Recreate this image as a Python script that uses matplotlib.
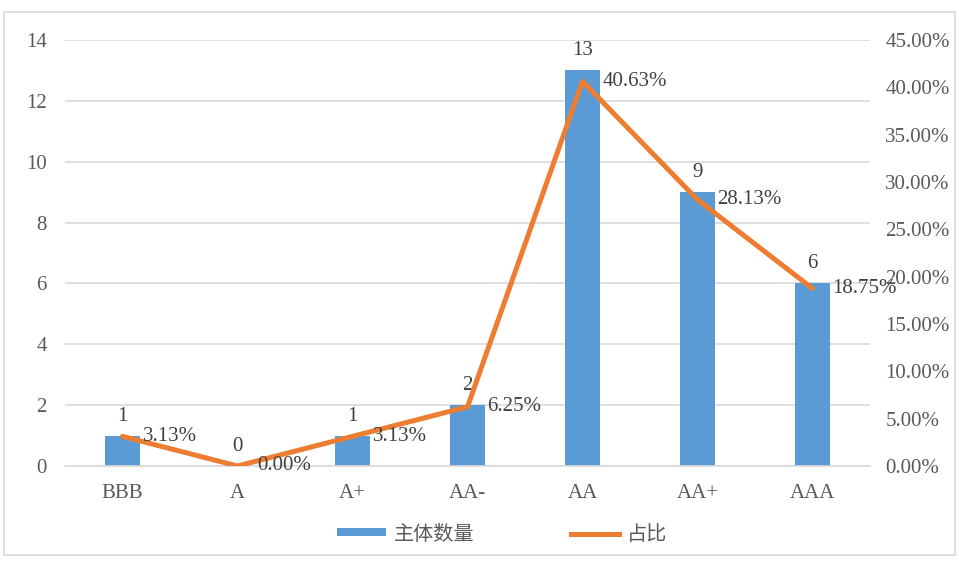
import matplotlib
matplotlib.use("Agg")
import matplotlib.pyplot as plt
from matplotlib.ticker import FuncFormatter, MultipleLocator
from matplotlib.patches import Rectangle, Patch
from matplotlib.lines import Line2D

categories = ["BBB", "A", "A+", "AA-", "AA", "AA+", "AAA"]
counts = [1, 0, 1, 2, 13, 9, 6]
shares = [3.13, 0.00, 3.13, 6.25, 40.63, 28.13, 18.75]

BAR = "#5B9BD5"
LINE = "#ED7D31"
TICK = "#595959"
LABEL = "#404040"
SERIF = ["Liberation Serif", "DejaVu Serif"]
CJK = ["Noto Sans CJK SC", "DejaVu Sans"]
FS = 15

fig = plt.figure(figsize=(9.59, 5.61), dpi=100)
fig.patches.append(Rectangle((4/959, 6/561), 951/959, 543/561, transform=fig.transFigure,
                             fill=False, edgecolor="#D9D9D9", linewidth=1.2))
ax = fig.add_axes([65/959, 1-466/561, 805/959, 426/561])
x = list(range(len(categories)))
ax.bar(x, counts, width=0.31, color=BAR, zorder=2)
ax.set_xlim(-0.5, len(categories) - 0.5)
ax.set_ylim(0, 14)
ax.yaxis.set_major_locator(MultipleLocator(2))
ax.grid(axis="y", color="#D9D9D9", linewidth=1.2, zorder=0)
for s in ax.spines.values():
    s.set_visible(False)
ax.spines["bottom"].set_visible(True)
ax.spines["bottom"].set_color("#D9D9D9")
ax.spines["bottom"].set_linewidth(1.2)
ax.tick_params(axis="both", length=0, colors=TICK, labelsize=FS)
ax.tick_params(axis="y", pad=13)
ax.tick_params(axis="x", pad=13)
ax.set_xticks(x)
ax.set_xticklabels(categories)
for lab in ax.get_xticklabels() + ax.get_yticklabels():
    lab.set_family(SERIF)

for xi, c in zip(x, counts):
    ax.annotate(str(c), (xi, c), xytext=(0, 10), textcoords="offset pixels",
                ha="center", va="bottom", fontsize=FS, color=LABEL, family=SERIF)

ax2 = ax.twinx()
ax2.set_ylim(0, 45)
ax2.yaxis.set_major_locator(MultipleLocator(5))
ax2.yaxis.set_major_formatter(FuncFormatter(lambda v, p: f"{v:.2f}%"))
for s in ax2.spines.values():
    s.set_visible(False)
ax2.tick_params(axis="y", length=0, colors=TICK, labelsize=FS, pad=11)
for lab in ax2.get_yticklabels():
    lab.set_family(SERIF)
ax2.plot(x, shares, color=LINE, linewidth=3.6, solid_joinstyle="round", solid_capstyle="round", zorder=3)
for xi, v in zip(x, shares):
    ax2.annotate(f"{v:.2f}%", (xi, v), xytext=(20, 0), textcoords="offset pixels",
                 ha="left", va="center", fontsize=FS, color=LABEL, family=SERIF)

handles = [Patch(facecolor=BAR, edgecolor="none"), Line2D([0], [0], color=LINE, linewidth=3.6)]
leg = fig.legend(handles, ["主体数量", "占比"], loc="center", bbox_to_anchor=(0.524, 1-534/561),
                 ncol=2, frameon=False, prop={"family": CJK, "size": 14.5},
                 handlelength=2.4, handleheight=0.25, columnspacing=4.8, handletextpad=0.4)
for t in leg.get_texts():
    t.set_color(TICK)

fig.savefig("out.png", dpi=100)
